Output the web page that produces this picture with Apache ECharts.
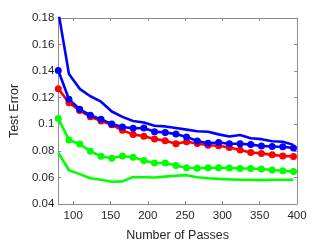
<!DOCTYPE html>
<html>
<head>
<meta charset="utf-8">
<script src="https://cdn.jsdelivr.net/npm/echarts@6/dist/echarts.min.js"></script>
<style>
html,body{margin:0;padding:0;background:#fff;}
#c{width:329px;height:247px;}
</style>
</head>
<body>
<div id="c"></div>
<script>
// x positions (number of passes)
const passes = [80, 94.3, 108.7, 123, 137.3, 151.7, 166, 180.3, 194.7, 209, 223.3, 237.7, 252, 266.3, 280.7, 295, 309.3, 323.7, 338, 352.3, 366.7, 381, 395.3];
// series values (test error)
const blueLine = [0.185, 0.1379, 0.1267, 0.1211, 0.117, 0.1096, 0.1056, 0.1025, 0.1013, 0.0989, 0.0984, 0.0972, 0.096, 0.0948, 0.0944, 0.0924, 0.0908, 0.0919, 0.0895, 0.0888, 0.0872, 0.0869, 0.0845];
const blueDots = [0.1405, 0.1188, 0.1113, 0.1068, 0.1037, 0.1003, 0.098, 0.097, 0.0972, 0.0944, 0.0939, 0.0926, 0.0905, 0.0874, 0.0857, 0.0863, 0.0854, 0.0854, 0.0847, 0.0837, 0.0833, 0.0831, 0.0821];
const redDots = [0.1267, 0.1163, 0.1104, 0.1056, 0.1025, 0.0996, 0.0955, 0.0924, 0.091, 0.089, 0.0876, 0.0854, 0.0868, 0.0856, 0.0842, 0.0838, 0.0825, 0.0807, 0.0788, 0.0781, 0.077, 0.0761, 0.0757];
const greenDots = [0.1044, 0.0881, 0.0852, 0.0797, 0.0759, 0.0745, 0.0761, 0.0752, 0.0728, 0.0709, 0.0709, 0.0689, 0.0673, 0.0669, 0.0672, 0.0673, 0.0671, 0.0668, 0.0667, 0.0663, 0.0656, 0.065, 0.0645];
const greenLine = [0.0786, 0.0654, 0.0625, 0.0594, 0.0582, 0.0567, 0.057, 0.0603, 0.0601, 0.0599, 0.0606, 0.0613, 0.0617, 0.0601, 0.0594, 0.0589, 0.0585, 0.0582, 0.0582, 0.058, 0.0582, 0.0582, 0.0582];
// tick labels
const xTicks = [100, 150, 200, 250, 300, 350, 400];
const yTicks = [0.04, 0.06, 0.08, 0.1, 0.12, 0.14, 0.16, 0.18];

const pair = v => passes.map((x, i) => [x, v[i]]);
const axisColor = '#8c8c8c';
const textColor = '#262626';
const font = 'Liberation Sans, Arial, sans-serif';

function mkSeries(name, vals, color, dots) {
  return {
    name, type: 'line', data: pair(vals), xAxisIndex: 0, yAxisIndex: 0,
    symbol: dots ? 'circle' : 'none', symbolSize: 7, showSymbol: dots,
    lineStyle: { color, width: 2.6 }, itemStyle: { color },
    animation: false, clip: true, z: 3
  };
}

const chart = echarts.init(document.getElementById('c'), null, { renderer: 'canvas' });
chart.setOption({
  backgroundColor: '#fff',
  animation: false,
  grid: { left: 42.5, top: 18, right: 32, bottom: 34, containLabel: false },
  xAxis: [{
    type: 'value', position: 'bottom', min: 80, max: 400,
    name: 'Number of Passes', nameLocation: 'middle', nameGap: 25,
    nameTextStyle: { color: textColor, fontSize: 12.5, fontFamily: font },
    axisLine: { show: true, lineStyle: { color: axisColor, width: 1 } },
    axisTick: { show: true, inside: true, length: 3, customValues: xTicks, lineStyle: { color: axisColor } },
    axisLabel: { show: true, customValues: xTicks, color: textColor, fontSize: 11.5, fontFamily: font, margin: 6 },
    splitLine: { show: false }
  }, {
    type: 'value', position: 'top', min: 80, max: 400,
    axisLine: { show: true, onZero: false, lineStyle: { color: axisColor, width: 1 } },
    axisTick: { show: true, inside: true, length: 3, customValues: xTicks, lineStyle: { color: axisColor } },
    axisLabel: { show: false },
    splitLine: { show: false }
  }],
  yAxis: [{
    type: 'value', position: 'left', min: 0.04, max: 0.18, interval: 0.02,
    name: 'Test Error', nameLocation: 'middle', nameGap: 34,
    nameTextStyle: { color: textColor, fontSize: 12.5, fontFamily: font },
    axisLine: { show: true, lineStyle: { color: axisColor, width: 1 } },
    axisTick: { show: true, inside: true, length: 3, customValues: yTicks, lineStyle: { color: axisColor } },
    axisLabel: { show: true, customValues: yTicks, color: textColor, fontSize: 11.5, fontFamily: font, margin: 4,
      formatter: v => String(+v.toFixed(2)) },
    splitLine: { show: false }
  }, {
    type: 'value', position: 'right', min: 0.04, max: 0.18, interval: 0.02,
    axisLine: { show: true, onZero: false, lineStyle: { color: axisColor, width: 1 } },
    axisTick: { show: true, inside: true, length: 3, customValues: yTicks, lineStyle: { color: axisColor } },
    axisLabel: { show: false },
    splitLine: { show: false }
  }],
  series: [
    mkSeries('greenLine', greenLine, '#00ff00', false),
    mkSeries('greenDots', greenDots, '#00ff00', true),
    mkSeries('redDots', redDots, '#ff0000', true),
    mkSeries('blueDots', blueDots, '#0000ff', true),
    mkSeries('blueLine', blueLine, '#0000ff', false)
  ]
});
</script>
</body>
</html>
